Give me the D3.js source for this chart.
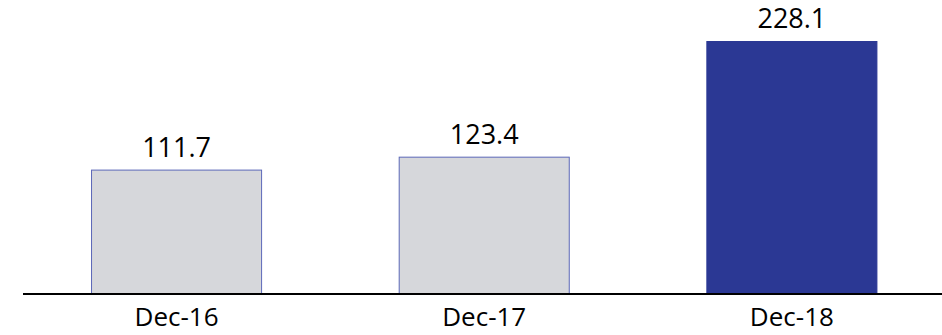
<!DOCTYPE html>
<html>
<head>
<meta charset="utf-8">
<script src="https://cdn.jsdelivr.net/npm/d3@7"></script>
<style>
  html, body { margin: 0; padding: 0; background: #ffffff; }
  svg { display: block; }
  text { font-family: "Open Sans", "Noto Sans", sans-serif; fill: #000; }
</style>
</head>
<body>
<div id="chart"></div>
<script>
// Year-end values
const categories = ["Dec-16", "Dec-17", "Dec-18"];
const values = [111.7, 123.4, 228.1];
const highlight = [false, false, true];

const width = 942, height = 335;
const baseY = 293, topY = 41;
const axisLeft = 23, axisRight = 942;

const svg = d3.select("#chart").append("svg")
  .attr("width", width)
  .attr("height", height);

const x = d3.scaleBand()
  .domain(categories)
  .range([axisLeft, axisRight])
  .paddingInner(0.444)
  .paddingOuter(0.2155)
  .align(0.513);

const y = d3.scaleLinear()
  .domain([0, d3.max(values)])
  .range([baseY, topY]);

const data = categories.map((c, i) => ({ cat: c, value: values[i], hl: highlight[i] }));

// Bars
svg.append("g").selectAll("rect")
  .data(data)
  .join("rect")
  .attr("x", d => x(d.cat) + 0.5)
  .attr("y", d => y(d.value) + 0.5)
  .attr("width", x.bandwidth() - 1)
  .attr("height", d => y(0) - y(d.value))
  .attr("fill", d => d.hl ? "#2b3894" : "#d6d7db")
  .attr("stroke", d => d.hl ? "#2b3894" : "#5c68b8")
  .attr("stroke-width", 1);

// Value labels
svg.append("g").selectAll("text")
  .data(data)
  .join("text")
  .attr("x", d => x(d.cat) + x.bandwidth() / 2)
  .attr("y", d => y(d.value) - 13)
  .attr("text-anchor", "middle")
  .attr("font-size", 27)
  .text(d => d.value.toFixed(1));

// Baseline axis
const axis = d3.axisBottom(x).tickSize(0).tickPadding(0);
const gAxis = svg.append("g")
  .attr("transform", `translate(0,${baseY + 1})`)
  .call(axis);
gAxis.select(".domain").remove();
gAxis.append("line")
  .attr("x1", axisLeft).attr("x2", axisRight)
  .attr("y1", 0).attr("y2", 0)
  .attr("stroke", "#000").attr("stroke-width", 2);
gAxis.selectAll(".tick text")
  .attr("dy", null)
  .attr("y", 32)
  .attr("font-size", 26)
  .attr("font-family", "'Open Sans', 'Noto Sans', sans-serif")
  .attr("fill", "#000");
</script>
</body>
</html>
